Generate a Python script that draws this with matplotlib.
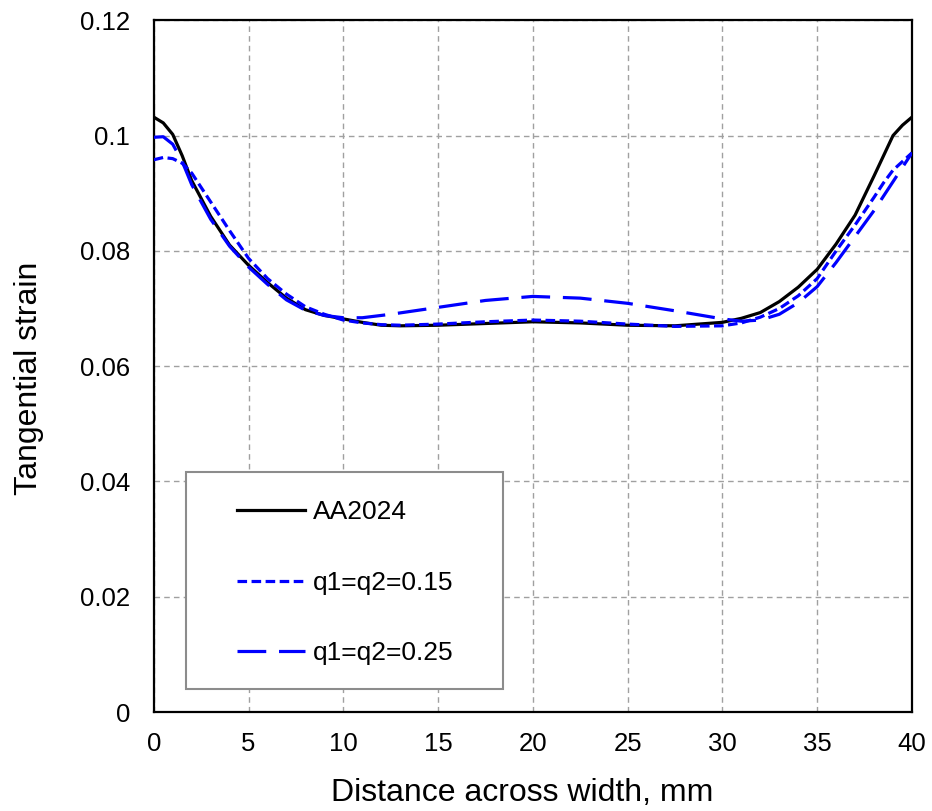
import matplotlib
matplotlib.use("Agg")
import matplotlib.pyplot as plt
from matplotlib.patches import Rectangle

plt.rcParams['font.family'] = ['Liberation Sans', 'DejaVu Sans']

# Distance across width (mm) and tangential strain for each case
x_aa = [0, 0.5, 1.0, 1.5, 2, 3, 4, 5, 6, 7, 8, 9, 10, 11, 12, 13, 15, 17.5, 20,
        22.5, 25, 27.5, 30, 31, 32, 33, 34, 35, 36, 37, 38, 38.5, 39, 39.5, 40]
y_aa = [0.1032, 0.1022, 0.1002, 0.0965, 0.0922, 0.0860, 0.0810, 0.0775, 0.0745,
        0.0718, 0.0698, 0.0688, 0.0682, 0.0676, 0.0671, 0.0670, 0.0671, 0.0674,
        0.0677, 0.0675, 0.0671, 0.0670, 0.0676, 0.0683, 0.0693, 0.0712, 0.0737,
        0.0768, 0.0812, 0.0862, 0.0930, 0.0965, 0.1000, 0.1018, 0.1032]

x_q15 = [0, 0.5, 1, 1.5, 2, 3, 4, 5, 6, 7, 8, 9, 10, 11, 12, 13, 15, 17.5, 20,
         22.5, 25, 27.5, 30, 31, 32, 33, 34, 35, 36, 37, 38, 38.5, 39, 39.5, 40]
y_q15 = [0.0958, 0.0962, 0.0960, 0.0952, 0.0935, 0.0885, 0.0835, 0.0787, 0.0752,
         0.0725, 0.0703, 0.0690, 0.0680, 0.0675, 0.0672, 0.0671, 0.0673, 0.0677,
         0.0680, 0.0678, 0.0673, 0.0669, 0.0670, 0.0675, 0.0685, 0.0700, 0.0722,
         0.0752, 0.0800, 0.0845, 0.0893, 0.0918, 0.0940, 0.0955, 0.0970]

x_q25 = [0, 0.5, 1, 1.5, 2, 3, 4, 5, 6, 7, 8, 9, 10, 11, 12.5, 15, 17.5, 20,
         22.5, 25, 27.5, 30, 31, 32, 33, 34, 35, 36, 37, 38, 38.5, 39, 39.5, 40]
y_q25 = [0.0997, 0.0998, 0.0985, 0.0955, 0.0915, 0.0855, 0.0808, 0.0772, 0.0742,
         0.0715, 0.0697, 0.0688, 0.0684, 0.0684, 0.0690, 0.0702, 0.0714, 0.0721,
         0.0718, 0.0709, 0.0696, 0.0682, 0.0678, 0.0680, 0.0690, 0.0710, 0.0738,
         0.0780, 0.0825, 0.0870, 0.0895, 0.0920, 0.0945, 0.0970]

labels = ['AA2024', 'q1=q2=0.15', 'q1=q2=0.25']
x_ticks = [0, 5, 10, 15, 20, 25, 30, 35, 40]
y_ticks = [0, 0.02, 0.04, 0.06, 0.08, 0.1, 0.12]
y_tick_labels = ['0', '0.02', '0.04', '0.06', '0.08', '0.1', '0.12']

fig = plt.figure(figsize=(9.32, 8.11), dpi=100)
ax = fig.add_axes([0.165, 0.122, 0.8135, 0.853])

h1, = ax.plot(x_aa, y_aa, color='black', lw=2.3, label=labels[0], zorder=3)
h2, = ax.plot(x_q15, y_q15, color='#0000ff', lw=2.3, dashes=(3, 1.4),
              label=labels[1], zorder=4)
h3, = ax.plot(x_q25, y_q25, color='#0000ff', lw=2.3, dashes=(9, 4),
              label=labels[2], zorder=4)

ax.set_xlim(0, 40)
ax.set_ylim(0, 0.12)
ax.set_xticks(x_ticks)
ax.set_yticks(y_ticks)
ax.set_yticklabels(y_tick_labels)
ax.tick_params(length=0, labelsize=18.5)
ax.tick_params(axis='x', pad=14)
ax.tick_params(axis='y', pad=17)

ax.grid(True, color='#a0a0a0', lw=1.0, dashes=(4, 3))
ax.set_axisbelow(True)
for s in ax.spines.values():
    s.set_linewidth(1.6)
    s.set_color('black')

ax.set_xlabel('Distance across width, mm', fontsize=23, labelpad=16)
ax.set_ylabel('Tangential strain', fontsize=23, labelpad=26)
ax.xaxis.label.set_x(0.4855)
ax.yaxis.label.set_y(0.483)

# Legend box
box = Rectangle((0.042, 0.033), 0.418, 0.314, transform=ax.transAxes,
                facecolor='white', edgecolor='#8c8c8c', lw=1.5, zorder=5)
ax.add_patch(box)
leg = ax.legend(handles=[h1, h2, h3], loc='upper left',
                bbox_to_anchor=(0.1095, 0.306), frameon=False, fontsize=19,
                borderpad=0, borderaxespad=0, labelspacing=1.76,
                handlelength=2.6, handletextpad=0.27)
leg.set_zorder(6)

fig.savefig('out.png', dpi=100)
